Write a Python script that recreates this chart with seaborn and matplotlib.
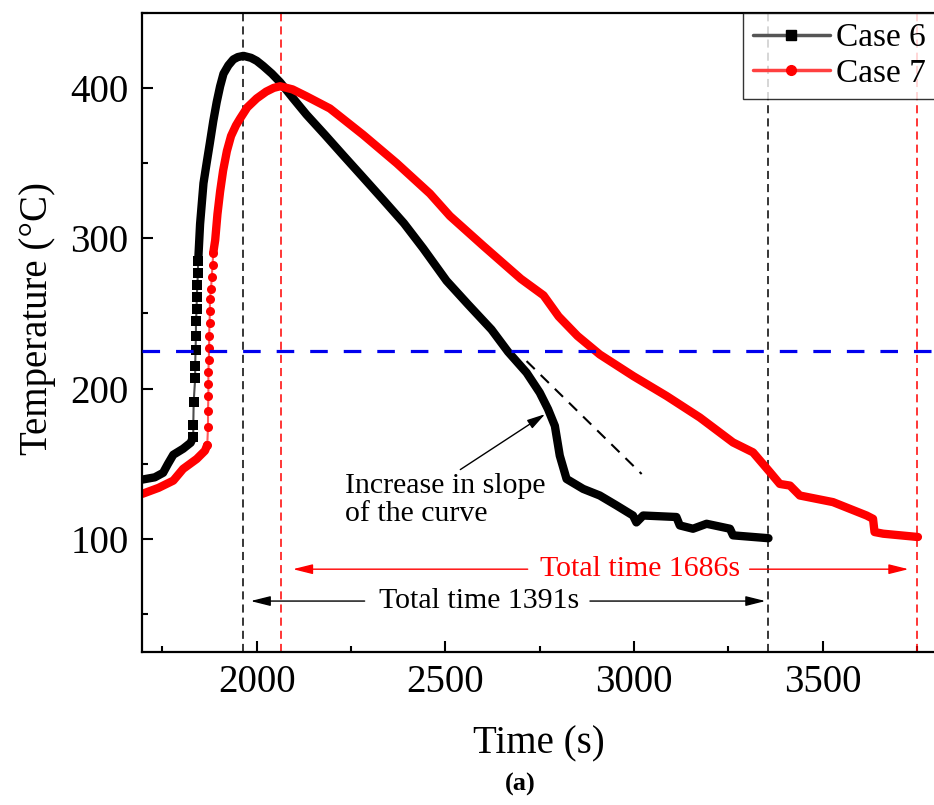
import pandas as pd
import seaborn as sns
import matplotlib.pyplot as plt
from matplotlib.lines import Line2D
from matplotlib.ticker import MultipleLocator

# data
case6_time = [1697, 1730, 1752, 1765, 1779, 1805, 1825,
              1832, 1832, 1833, 1837, 1837, 1838, 1839, 1839, 1841, 1841, 1843, 1844, 1845,
              1850, 1859, 1868, 1876, 1885, 1894, 1903, 1912, 1925, 1938, 1950, 1965, 1985,
              2000, 2017, 2040, 2062, 2095, 2132, 2180, 2229, 2280, 2335, 2390, 2441,
              2503, 2560, 2622, 2666, 2715, 2750, 2772, 2790, 2803, 2821, 2865, 2909, 2954,
              2997, 3006, 3024, 3112, 3121, 3156, 3192, 3254, 3262, 3356]
case6_temp = [139.5, 141, 144, 150, 156, 160, 164,
              168, 176, 191, 207, 215, 226, 235, 245, 253, 261, 269, 277, 285,
              309.5, 336.6, 351, 363.5, 378, 390.5, 401, 409.4, 415, 418.9, 420.5, 421.3, 420,
              418, 414.6, 409.5, 403.8, 393.5, 382.2, 369, 355.2, 341, 325.6, 310, 293.3,
              271.7, 256, 239.3, 224.5, 210.6, 197.3, 186.3, 175.2, 155.4, 139.9, 133.3, 128.9, 122.2,
              115.6, 111, 115.6, 114.6, 109, 106.8, 110.1, 106.8, 102.4, 100.5]

case7_time = [1697, 1740, 1779, 1805, 1841, 1863,
              1869, 1871, 1871, 1872, 1872, 1872, 1873, 1874, 1874, 1875, 1876, 1876, 1879, 1881, 1883, 1885,
              1890, 1896, 1903, 1911, 1921, 1932, 1945, 1956, 1975, 2000, 2025, 2045, 2062, 2095,
              2132, 2194, 2282, 2371, 2459, 2512, 2600, 2700,
              2760, 2800, 2850, 2909, 2998, 3086, 3174, 3262, 3315, 3360, 3386, 3413, 3439, 3527,
              3616, 3633, 3637, 3660, 3752]
case7_temp = [130, 134, 138.8, 146.6, 153.2, 158.7,
              162.5, 174.7, 185.4, 194.9, 203, 211.1, 219.1, 227.2, 235.3, 243.4, 251.5, 259.6, 266.3, 274.4, 282.5, 290.5,
              298.7, 316, 331, 345, 358, 368, 375, 379.6, 387, 393, 397.5, 400, 401.1, 399,
              394.4, 386.3, 368.8, 349.9, 329.7, 314.8, 295, 273,
              262, 248, 235, 222.7, 208.3, 195.1, 180.8, 164.2, 157.6, 144.4, 136.6, 135.5, 128.9, 124.5,
              115.6, 113.4, 104.6, 103.5, 101.3]

# index range where single markers are visible (steep rise)
rise6 = (7, 19)
rise7 = (6, 21)

threshold = 225
case6_bounds = [1965, 3356]
case7_bounds = [2064, 3750]
tangent_time = [2715, 3020]
tangent_temp = [218.3, 143.2]


def draw_case(ax, t, y, rise, color, thin, marker):
    df = pd.DataFrame({'t': t, 'y': y})
    i0, i1 = rise
    for part in (df.iloc[:i0 + 1], df.iloc[i1:]):
        sns.lineplot(data=part, x='t', y='y', estimator=None, sort=False, ax=ax,
                     color=color, lw=6, solid_joinstyle='round', solid_capstyle='round', zorder=2)
    sns.lineplot(data=df.iloc[i0:i1 + 1], x='t', y='y', estimator=None, sort=False, ax=ax,
                 color=thin, lw=1.5, marker=marker, markersize=6.5,
                 markerfacecolor=color, markeredgecolor=color, markeredgewidth=0, zorder=2)


def main():
    sns.set_style('ticks')
    plt.rcParams['font.family'] = ['Liberation Serif', 'DejaVu Serif']
    plt.rcParams.update({'text.color': 'k', 'axes.labelcolor': 'k',
                         'xtick.color': 'k', 'ytick.color': 'k'})

    fig = plt.figure(figsize=(9.34, 8.05), dpi=100)
    ax = fig.add_axes([0.1524, 0.1904, 0.8498, 0.7938])

    # guide lines
    for xv in case6_bounds:
        ax.axvline(xv, color='k', lw=1.1, dashes=(5.3, 3.3), zorder=1)
    for xv in case7_bounds:
        ax.axvline(xv, color='red', lw=1.1, dashes=(5.3, 3.3), zorder=1)

    draw_case(ax, case6_time, case6_temp, rise6, 'k', '#4d4d4d', 's')
    draw_case(ax, case7_time, case7_temp, rise7, 'red', '#ff5a5a', 'o')

    ax.axhline(threshold, color='#0000ee', lw=2.3, dashes=(5.5, 5), zorder=3)
    ax.plot(tangent_time, tangent_temp, color='k', lw=1.5, dashes=(5.5, 4), zorder=3)

    ax.set_xlim(1697, 3800)
    ax.set_ylim(25, 450)
    ax.xaxis.set_major_locator(MultipleLocator(500))
    ax.xaxis.set_minor_locator(MultipleLocator(250))
    ax.yaxis.set_major_locator(MultipleLocator(100))
    ax.yaxis.set_minor_locator(MultipleLocator(50))
    ax.tick_params(which='both', direction='in', top=False, right=False, width=1.5, color='k')
    ax.tick_params(which='major', length=8, labelsize=28, labelcolor='k')
    ax.tick_params(which='minor', length=4.5)
    ax.tick_params(axis='x', which='major', pad=9)
    ax.tick_params(axis='y', which='major', pad=10)
    for sp in ax.spines.values():
        sp.set_linewidth(1.6)
        sp.set_color('k')

    ax.set_xlabel('Time (s)', fontsize=28, color='k')
    ax.set_ylabel('Temperature (°C)', fontsize=28, color='k')
    ax.xaxis.set_label_coords(0.5, -0.145)
    ax.xaxis.label.set_va('center')
    ax.yaxis.set_label_coords(-0.132, 0.521)
    ax.yaxis.label.set_va('center')

    # annotations
    ax.annotate('Increase in slope\nof the curve', xy=(2764, 183), xytext=(2234, 126),
                fontsize=21.5, ha='left', va='center', linespacing=1.1, color='k',
                arrowprops=dict(arrowstyle='-|>,head_length=0.55,head_width=0.15',
                                mutation_scale=20, color='k', lw=1,
                                shrinkA=0, shrinkB=0, relpos=(0.55, 1.0)))

    ax.text(3017, 79.9, 'Total time 1686s', color='red', fontsize=21.5, ha='center', va='center')
    for a, b in ((2718, 2096), (3306, 3727)):
        ax.annotate('', xy=(b, 79.9), xytext=(a, 79.9),
                    arrowprops=dict(arrowstyle='-|>,head_length=0.6,head_width=0.15',
                                    mutation_scale=20, color='red', lw=1,
                                    shrinkA=0, shrinkB=0))
    ax.text(2590, 58.7, 'Total time 1391s', color='k', fontsize=21.5, ha='center', va='center')
    for a, b in ((2286, 1984), (2883, 3348)):
        ax.annotate('', xy=(b, 58.7), xytext=(a, 58.7),
                    arrowprops=dict(arrowstyle='-|>,head_length=0.6,head_width=0.15',
                                    mutation_scale=20, color='k', lw=1,
                                    shrinkA=0, shrinkB=0))

    handles = [
        Line2D([], [], color='#555555', lw=2.5, marker='s', markersize=7,
               markerfacecolor='k', markeredgecolor='k'),
        Line2D([], [], color='#ff4040', lw=2.5, marker='o', markersize=7,
               markerfacecolor='red', markeredgecolor='red'),
    ]
    leg = ax.legend(handles, ['Case 6', 'Case 7'], loc='upper right', fontsize=24,
                    frameon=True, fancybox=False, borderaxespad=0, borderpad=0.3,
                    handlelength=2.3, handletextpad=0.2, labelspacing=0.15)
    leg.get_frame().set_edgecolor('k')
    leg.get_frame().set_linewidth(1)
    for txt in leg.get_texts():
        txt.set_color('k')

    fig.text(0.557, 0.025, '(a)', fontsize=19, fontweight='bold', ha='center', va='center')

    fig.savefig('out.png', dpi=100)


if __name__ == '__main__':
    main()
